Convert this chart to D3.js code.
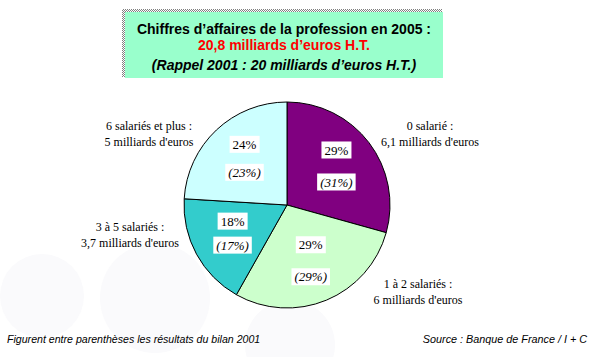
<!DOCTYPE html>
<html>
<head>
<meta charset="utf-8">
<script src="https://cdn.jsdelivr.net/npm/d3@7"></script>
<style>
  body { margin: 0; background: #ffffff; }
</style>
</head>
<body>
<div id="canvas"></div>
<script>
"use strict";

/* Data */
let categories = ["0 salarié :", "1 à 2 salariés :", "3 à 5 salariés :", "6 salariés et plus :"];
let amounts = [6.1, 6, 3.7, 5];
let amountLabels = ["6,1 milliards d'euros", "6 milliards d'euros", "3,7 milliards d'euros", "5 milliards d'euros"];
let share2005 = ["29%", "29%", "18%", "24%"];
let share2001 = ["(31%)", "(29%)", "(17%)", "(23%)"];
let titleLines = [
  "Chiffres d\u2019affaires de la profession en 2005 :",
  "20,8 milliards d\u2019euros H.T.",
  "(Rappel 2001 : 20 milliards d\u2019euros H.T.)"
];

/* SVG setup */
let svgWidth = 600;
let svgHeight = 357;
let cx = 287;
let cy = 205;
let radius = 103;

let svg = d3.select("#canvas")
  .append("svg")
  .attr("width", svgWidth)
  .attr("height", svgHeight);

/* faint background circles */
let bgCircles = [[42, 296, 42], [155, 298, 55], [290, 345, 45]];
for (let i = 0; i < bgCircles.length; i++) {
  svg.append("circle")
    .attr("cx", bgCircles[i][0])
    .attr("cy", bgCircles[i][1])
    .attr("r", bgCircles[i][2])
    .attr("fill", "#fafafc");
}

/* Title box with stippled shadow */
let defs = svg.append("defs");
let pat = defs.append("pattern")
  .attr("id", "stipple")
  .attr("width", 2)
  .attr("height", 2)
  .attr("patternUnits", "userSpaceOnUse");
pat.append("rect").attr("width", 2).attr("height", 2).attr("fill", "#ffffff");
pat.append("rect").attr("width", 1).attr("height", 1).attr("fill", "#808080");
pat.append("rect").attr("x", 1).attr("y", 1).attr("width", 1).attr("height", 1).attr("fill", "#808080");

svg.append("rect")
  .attr("x", 122)
  .attr("y", 9)
  .attr("width", 320)
  .attr("height", 68)
  .attr("fill", "url(#stipple)");

svg.append("rect")
  .attr("x", 125)
  .attr("y", 12)
  .attr("width", 318)
  .attr("height", 66)
  .attr("fill", "#99ffcc");

let titleY = [30, 46, 66];
let titleColors = ["#000000", "#ff0000", "#000000"];
for (let i = 0; i < titleLines.length; i++) {
  svg.append("text")
    .attr("x", 284)
    .attr("y", titleY[i])
    .attr("text-anchor", "middle")
    .attr("dominant-baseline", "middle")
    .style("font-family", "Arial, 'Liberation Sans', sans-serif")
    .style("font-size", "14px")
    .style("font-weight", "bold")
    .style("font-style", i === 2 ? "italic" : "normal")
    .attr("fill", titleColors[i])
    .text(titleLines[i]);
}

/* Pie */
let colors = ["#800080", "#ccffcc", "#33cccc", "#ccffff"];
let pie = d3.pie().sort(null).value(function (d) { return d; });
let arcs = pie(amounts);
let arc = d3.arc().innerRadius(0).outerRadius(radius);
let labelArc = d3.arc().innerRadius(62).outerRadius(62);

let g = svg.append("g").attr("transform", "translate(" + cx + "," + cy + ")");

g.selectAll("path")
  .data(arcs)
  .enter()
  .append("path")
  .attr("d", arc)
  .attr("fill", function (d, i) { return colors[i]; })
  .attr("stroke", "#000000")
  .attr("stroke-width", 1);

/* Percent labels in white boxes */
let serif = "'Times New Roman', 'Liberation Serif', serif";
function boxedLabel(x, y, txt, italic) {
  let t = g.append("text")
    .attr("x", x)
    .attr("y", y)
    .attr("text-anchor", "middle")
    .attr("dominant-baseline", "middle")
    .style("font-family", serif)
    .style("font-size", "13px")
    .style("font-style", italic ? "italic" : "normal")
    .text(txt);
  let bb = t.node().getBBox();
  g.insert("rect", function () { return t.node(); })
    .attr("x", bb.x - 3)
    .attr("y", bb.y - 1)
    .attr("width", bb.width + 6)
    .attr("height", bb.height + 2)
    .attr("fill", "#ffffff");
}

let gaps = [16, 16, 12, 14];
for (let i = 0; i < arcs.length; i++) {
  let c = labelArc.centroid(arcs[i]);
  boxedLabel(c[0], c[1] - gaps[i], share2005[i], false);
  boxedLabel(c[0], c[1] + gaps[i], share2001[i], true);
}

/* Outer category labels */
let outerPos = [[430, 127], [418, 285], [130, 228], [149, 127]];
for (let i = 0; i < categories.length; i++) {
  svg.append("text")
    .attr("x", outerPos[i][0])
    .attr("y", outerPos[i][1])
    .attr("text-anchor", "middle")
    .attr("dominant-baseline", "middle")
    .style("font-family", serif)
    .style("font-size", "12px")
    .text(categories[i]);
  svg.append("text")
    .attr("x", outerPos[i][0])
    .attr("y", outerPos[i][1] + 16)
    .attr("text-anchor", "middle")
    .attr("dominant-baseline", "middle")
    .style("font-family", serif)
    .style("font-size", "12px")
    .text(amountLabels[i]);
}

/* Footer */
svg.append("text")
  .attr("x", 7)
  .attr("y", 340)
  .attr("dominant-baseline", "middle")
  .style("font-family", "Arial, 'Liberation Sans', sans-serif")
  .style("font-size", "10.6px")
  .style("font-style", "italic")
  .text("Figurent entre parenthèses les résultats du bilan 2001");

svg.append("text")
  .attr("x", 587)
  .attr("y", 340)
  .attr("text-anchor", "end")
  .attr("dominant-baseline", "middle")
  .style("font-family", "Arial, 'Liberation Sans', sans-serif")
  .style("font-size", "10.8px")
  .style("font-style", "italic")
  .text("Source : Banque de France / I + C");
</script>
</body>
</html>
